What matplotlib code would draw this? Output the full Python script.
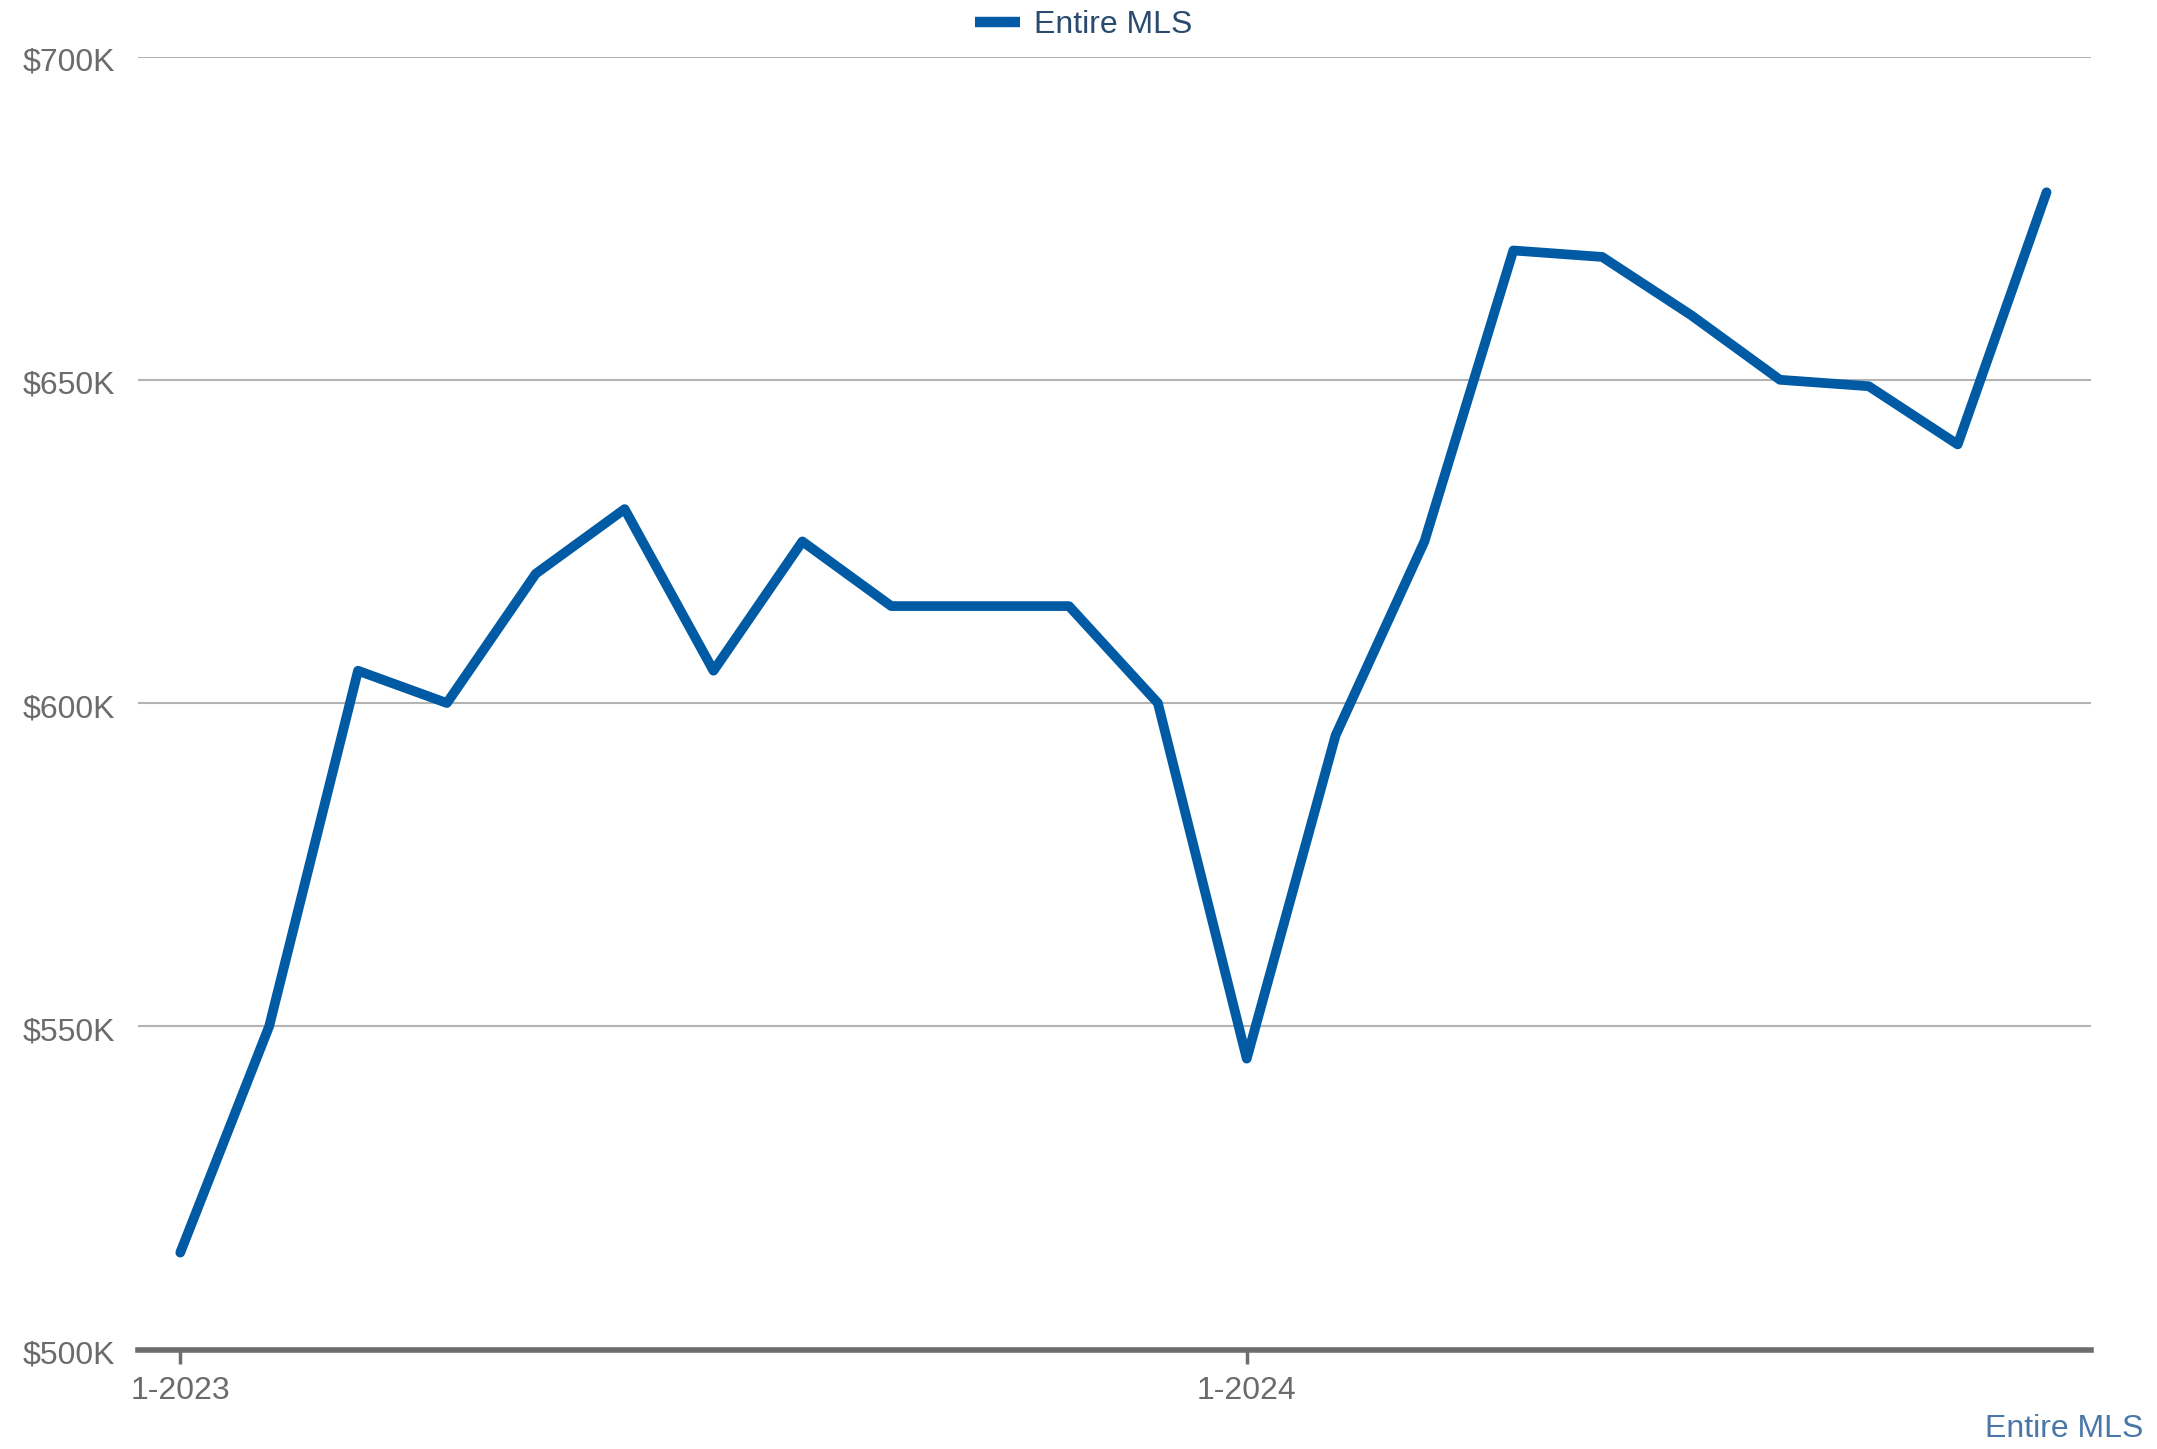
#!/usr/bin/env python
# coding: utf-8

    #========= IMPORTS ===================================================#

import matplotlib
matplotlib.use("Agg")
import matplotlib.pyplot as plt
import matplotlib.transforms as mtransforms
from matplotlib.ticker import FuncFormatter

    #========= DATA ======================================================#

MONTHS = ["1-2023", "2-2023", "3-2023", "4-2023", "5-2023", "6-2023",
          "7-2023", "8-2023", "9-2023", "10-2023", "11-2023", "12-2023",
          "1-2024", "2-2024", "3-2024", "4-2024", "5-2024", "6-2024",
          "7-2024", "8-2024", "9-2024", "10-2024"]
PRICES_K = [515, 550, 605, 600, 620, 630, 605, 625, 615, 615, 615, 600,
            545, 595, 625, 670, 669, 660, 650, 649, 640, 679]
SHOWN_TICKS = ["1-2023", "1-2024"]
SERIES_NAME = "Entire MLS"

    #========= FIGURE ====================================================#

plt.rcParams["font.family"] = ["Liberation Sans", "DejaVu Sans"]

fig = plt.figure(figsize=(21.57, 14.49), dpi=100)
ax = fig.add_axes([0.0638, 0.0686, 0.9056, 0.8924])

x = list(range(len(MONTHS)))
ax.plot(x, PRICES_K, color="#005ba4", linewidth=7, solid_joinstyle="round",
        solid_capstyle="round", label=SERIES_NAME, zorder=3)

ax.set_xlim(-0.48, 21.5)
ax.set_ylim(500, 700)
ax.set_yticks([500, 550, 600, 650, 700])
ax.yaxis.set_major_formatter(FuncFormatter(lambda v, p: "$%dK" % v))
ax.grid(axis="y", color="#b3b3b3", linewidth=1.5)
ax.set_axisbelow(True)

ticks = [MONTHS.index(m) for m in SHOWN_TICKS]
ax.set_xticks(ticks)
ax.set_xticklabels(SHOWN_TICKS)

for side in ["top", "right", "left"]:
    ax.spines[side].set_visible(False)
ax.spines["bottom"].set_color("#6d6d6d")
ax.spines["bottom"].set_linewidth(4)
ax.spines["bottom"].set_zorder(4)

ax.tick_params(axis="y", length=0, pad=16, labelsize=23, labelcolor="#6b6b6b")
shift = mtransforms.ScaledTranslation(0, -6 / 100, fig.dpi_scale_trans)
for lab in ax.get_yticklabels():
    lab.set_va("center")
    lab.set_transform(lab.get_transform() + shift)
ax.tick_params(axis="x", length=10, width=2.5, color="#6d6d6d", pad=9,
               labelsize=23, labelcolor="#6b6b6b")

leg = fig.legend(loc="upper center", bbox_to_anchor=(0.5026, 1.013), frameon=False,
                 fontsize=23, handlelength=1.4, handletextpad=0.45)
for t in leg.get_texts():
    t.set_color("#2a4a6e")
for h in leg.get_lines():
    h.set_linewidth(7.5)
    h.set_solid_capstyle("butt")

fig.text(0.9935, 0.0035, SERIES_NAME, ha="right", va="bottom", fontsize=23,
         color="#4a77a8")

plt.savefig("out.png", dpi=100)
